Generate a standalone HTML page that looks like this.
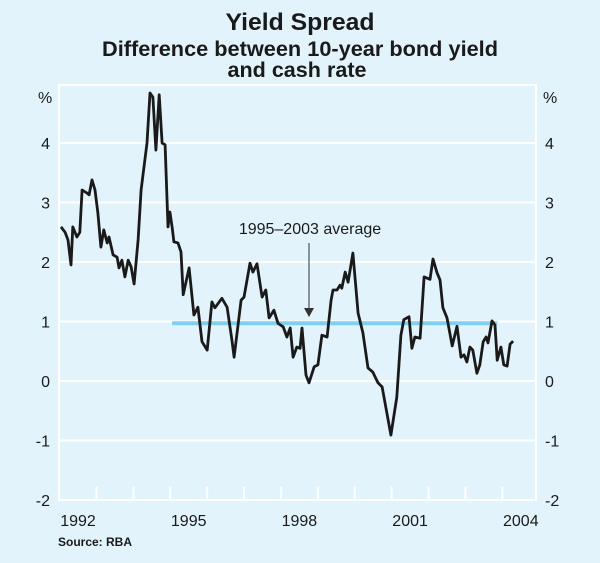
<!DOCTYPE html>
<html><head><meta charset="utf-8"><style>
body{margin:0;background:#e3f3fb;font-family:"Liberation Sans",Arial,sans-serif;}
svg text{font-family:"Liberation Sans",Arial,sans-serif;}
</style></head><body>
<svg id="chart" width="600" height="558">
<rect x="0" y="0" width="600" height="558" fill="#e3f3fb"/>
<text x="300" y="30" text-anchor="middle" font-size="24" font-weight="bold" fill="#1a1a1a" textLength="149" lengthAdjust="spacingAndGlyphs">Yield Spread</text>
<text x="300" y="56" text-anchor="middle" font-size="21" font-weight="bold" fill="#1a1a1a" textLength="396" lengthAdjust="spacingAndGlyphs">Difference between 10-year bond yield</text>
<text x="297" y="77" text-anchor="middle" font-size="21" font-weight="bold" fill="#1a1a1a" textLength="139" lengthAdjust="spacingAndGlyphs">and cash rate</text>
<rect x="59" y="85" width="477" height="415" fill="none" stroke="#fff" stroke-width="2"/>
<g id="grid"></g><g id="axes"></g><g id="series"></g>
<text x="58" y="546" font-size="12" font-weight="bold" fill="#1a1a1a">Source: RBA</text>
</svg>
<script>
const years=[1991.54,1991.65,1991.73,1991.81,1991.86,1991.97,1992.05,1992.11,1992.24,1992.30,1992.38,1992.46,1992.54,1992.62,1992.70,1992.79,1992.84,1992.95,1993.06,1993.11,1993.19,1993.27,1993.36,1993.44,1993.52,1993.63,1993.71,1993.87,1993.95,1994.03,1994.11,1994.20,1994.28,1994.36,1994.44,1994.49,1994.55,1994.60,1994.71,1994.79,1994.85,1995.01,1995.14,1995.25,1995.36,1995.50,1995.63,1995.71,1995.90,1996.04,1996.17,1996.23,1996.42,1996.50,1996.66,1996.74,1996.85,1996.99,1997.09,1997.18,1997.31,1997.42,1997.56,1997.66,1997.75,1997.83,1997.93,1998.02,1998.07,1998.18,1998.26,1998.40,1998.50,1998.61,1998.75,1998.86,1998.91,1999.02,1999.10,1999.15,1999.24,1999.32,1999.45,1999.59,1999.72,1999.86,1999.99,2000.13,2000.24,2000.37,2000.48,2000.64,2000.75,2000.83,2000.97,2001.05,2001.13,2001.27,2001.38,2001.54,2001.62,2001.73,2001.81,2001.89,2002.00,2002.14,2002.27,2002.38,2002.46,2002.54,2002.62,2002.70,2002.81,2002.89,2002.98,2003.06,2003.11,2003.22,2003.30,2003.36,2003.46,2003.54,2003.63,2003.71,2003.79];
const spread=[2.59,2.50,2.37,1.95,2.59,2.42,2.50,3.21,3.16,3.13,3.38,3.21,2.82,2.25,2.54,2.32,2.42,2.12,2.08,1.90,2.03,1.75,2.03,1.92,1.63,2.37,3.21,4.00,4.84,4.77,3.88,4.81,4.00,3.97,2.59,2.84,2.59,2.34,2.32,2.17,1.45,1.90,1.11,1.24,0.66,0.52,1.33,1.23,1.39,1.24,0.69,0.40,1.36,1.41,1.98,1.83,1.97,1.41,1.53,1.06,1.19,0.97,0.91,0.74,0.89,0.40,0.57,0.55,0.89,0.10,-0.03,0.24,0.27,0.77,0.74,1.36,1.53,1.53,1.61,1.56,1.83,1.66,2.15,1.14,0.81,0.22,0.15,-0.03,-0.10,-0.54,-0.91,-0.27,0.77,1.03,1.08,0.55,0.74,0.72,1.75,1.71,2.05,1.82,1.70,1.23,1.06,0.59,0.92,0.40,0.44,0.32,0.57,0.52,0.13,0.27,0.66,0.74,0.64,1.01,0.94,0.35,0.57,0.27,0.25,0.62,0.67];
const yTicks=[-2,-1,0,1,2,3,4];
const xTickYears=[1992,1995,1998,2001,2004];
const avgValue=0.97;
const avgRange=[1994.55,2003.36];

const NS="http://www.w3.org/2000/svg";
function X(yr){return 78+(yr-1992)*36.9;}
function Y(v){return 381-v*59.5;}
function mk(tag,attrs,parent){const e=document.createElementNS(NS,tag);for(const k in attrs)e.setAttribute(k,attrs[k]);document.getElementById(parent).appendChild(e);return e;}

yTicks.forEach(v=>{
  if(v>-2){const g=mk('line',{x1:59,x2:536,y1:Y(v),y2:Y(v),stroke:'#fff','stroke-width':2},'grid');
  
  }
  const l=mk('text',{x:50,y:Y(v)+6,'text-anchor':'end','font-size':16,fill:'#1a1a1a'},'axes');l.textContent=v;
  
  
  const r=mk('text',{x:545,y:Y(v)+6,'font-size':16,fill:'#1a1a1a'},'axes');r.textContent=v;
  
  
});
const pl=mk('text',{x:38,y:103,'font-size':16,fill:'#1a1a1a'},'axes');pl.textContent='%';


const pr=mk('text',{x:543,y:103,'font-size':16,fill:'#1a1a1a'},'axes');pr.textContent='%';


for(let yr=1993;yr<=2004;yr++){
  const t=mk('line',{x1:X(yr-0.5),x2:X(yr-0.5),y1:500,y2:487,stroke:'#fff','stroke-width':2},'axes');
  
  
}
xTickYears.forEach(yr=>{
  const t=mk('text',{x:X(yr),y:526,'text-anchor':'middle','font-size':16,fill:'#1a1a1a'},'axes');t.textContent=yr;
  
  
});
const avg=mk('line',{x1:X(avgRange[0]),x2:X(avgRange[1]),y1:Y(avgValue),y2:Y(avgValue),stroke:'#7fd0f0','stroke-width':4},'series');


const d=years.map((yr,i)=>(i?'L':'M')+X(yr).toFixed(1)+','+Y(spread[i]).toFixed(1)).join(' ');
const p=mk('path',{d:d,fill:'none',stroke:'#1a1a1a','stroke-width':2.8,'stroke-linejoin':'round'},'series');


const ar=mk('line',{x1:309,x2:309,y1:243,y2:312,stroke:'#333','stroke-width':1},'series');


const ah=mk('path',{d:'M304,308 L309,317 L314,308 Z',fill:'#333'},'series');


const at=mk('text',{x:310,y:234,'text-anchor':'middle','font-size':16,fill:'#1a1a1a'},'series');at.textContent='1995–2003 average';


</script>
</body></html>
